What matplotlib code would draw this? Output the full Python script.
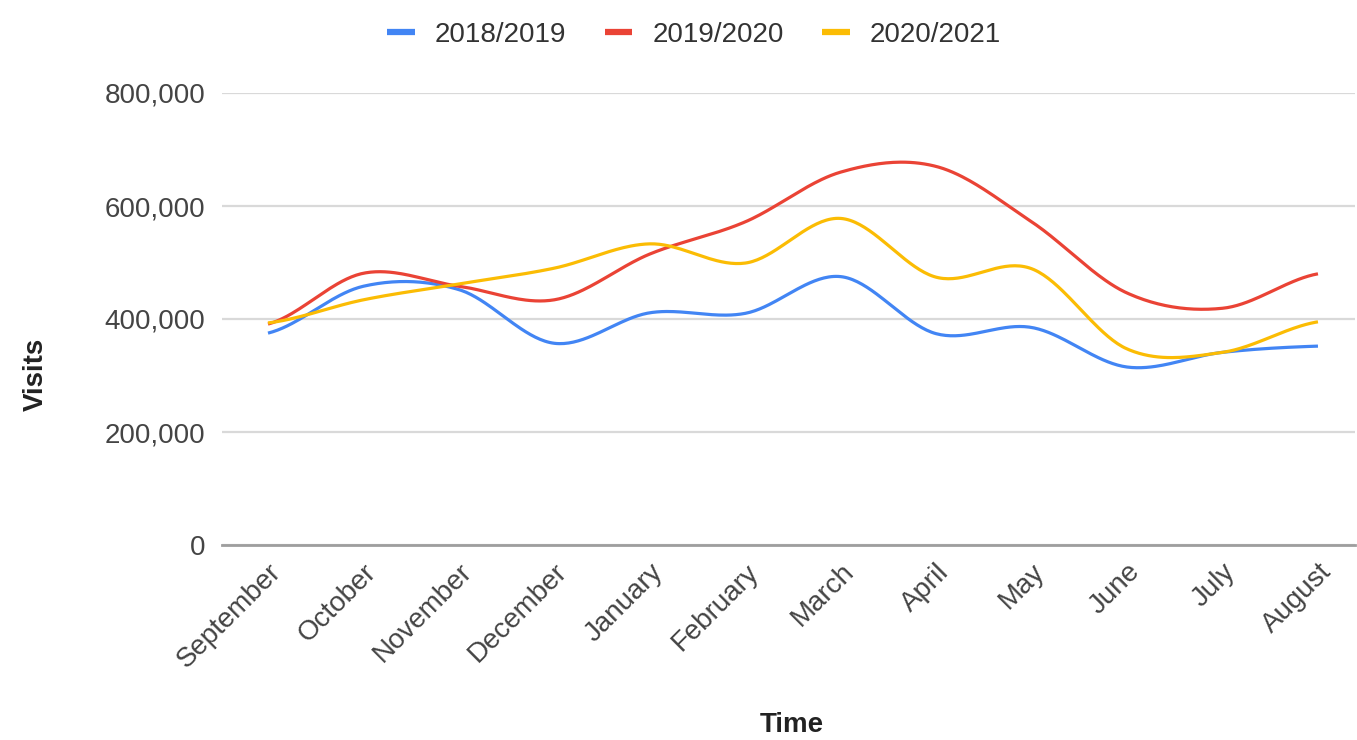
import numpy as np
import matplotlib
matplotlib.use('Agg')
import matplotlib.pyplot as plt
from matplotlib.ticker import FuncFormatter

#%% data

months = ['September', 'October', 'November', 'December', 'January', 'February',
          'March', 'April', 'May', 'June', 'July', 'August']
visits_2018_2019 = [375000, 458000, 452000, 357000, 411000, 410000,
                    475000, 374000, 385000, 315000, 341000, 352000]
visits_2019_2020 = [391000, 481000, 458000, 434000, 515000, 572000,
                    660000, 670000, 572000, 446000, 419000, 480000]
visits_2020_2021 = [393000, 434000, 462000, 490000, 533000, 499000,
                    578000, 474000, 489000, 347000, 341000, 395000]
series_names = ['2018/2019', '2019/2020', '2020/2021']
col = ['#4285f4', '#ea4335', '#fbbc04']

#%%


def smooth(xs, ys, steps=40):
    # cubic hermite with catmull-rom style tangents (like google "function" curves)
    xs = np.asarray(xs, float)
    ys = np.asarray(ys, float)
    n = len(ys)
    m = np.zeros(n)
    m[1:-1] = (ys[2:] - ys[:-2]) / (xs[2:] - xs[:-2])
    m[0] = (ys[1] - ys[0]) / (xs[1] - xs[0]) * 0.5
    m[-1] = (ys[-1] - ys[-2]) / (xs[-1] - xs[-2]) * 0.5
    out_x, out_y = [], []
    for i in range(n - 1):
        h = xs[i + 1] - xs[i]
        t = np.linspace(0, 1, steps, endpoint=(i == n - 2))
        h00 = 2 * t**3 - 3 * t**2 + 1
        h10 = t**3 - 2 * t**2 + t
        h01 = -2 * t**3 + 3 * t**2
        h11 = t**3 - t**2
        out_x.append(xs[i] + t * h)
        out_y.append(h00 * ys[i] + h10 * h * m[i] + h01 * ys[i + 1] + h11 * h * m[i + 1])
    return np.concatenate(out_x), np.concatenate(out_y)


plt.rcParams['font.family'] = ['Liberation Sans', 'DejaVu Sans']

W, H = 1357, 740
fig = plt.figure(figsize=(W / 100, H / 100), dpi=100)
ax = fig.add_axes([222 / W, 1 - 545 / H, (1355 - 222) / W, (545 - 93) / H])

x = np.arange(len(months))
for vals, name, c in zip([visits_2018_2019, visits_2019_2020, visits_2020_2021], series_names, col):
    sx, sy = smooth(x, vals)
    ax.plot(sx, sy, color=c, linewidth=2.3, label=name, solid_capstyle='butt', zorder=3)

ax.set_xlim(-0.482, 11.388)
ax.set_ylim(0, 800000)
ax.set_yticks([0, 200000, 400000, 600000, 800000])
ax.yaxis.set_major_formatter(FuncFormatter(lambda v, p: '{:,.0f}'.format(v)))
ax.grid(axis='y', color='#d9d9d9', linewidth=1.6, zorder=0)
for s in ['top', 'right', 'left']:
    ax.spines[s].set_visible(False)
ax.spines['bottom'].set_color('#9e9e9e')
ax.spines['bottom'].set_linewidth(2.0)
ax.spines['bottom'].set_zorder(2)

ax.set_xticks(x)
ax.set_xticklabels(months, rotation=45, ha='right', rotation_mode='anchor')
ax.tick_params(axis='both', length=0, labelsize=20, labelcolor='#444444')
ax.tick_params(axis='y', pad=12)
ax.tick_params(axis='x', pad=10)

fig.text(36 / W, 1 - 374 / H, 'Visits', rotation=90, ha='center', va='center',
         fontsize=20, fontweight='bold', color='#222222')
fig.text(792 / W, 1 - 725 / H, 'Time', ha='center', va='center',
         fontsize=20, fontweight='bold', color='#222222')

leg = fig.legend(loc='center', bbox_to_anchor=(694 / W, 1 - 35 / H), ncol=3, frameon=False,
                 fontsize=20, handlelength=1.0, handletextpad=0.72, columnspacing=1.37)
for h in leg.get_lines():
    h.set_linewidth(4.5)
for t in leg.get_texts():
    t.set_color('#333333')

fig.savefig('out.png', dpi=100)
